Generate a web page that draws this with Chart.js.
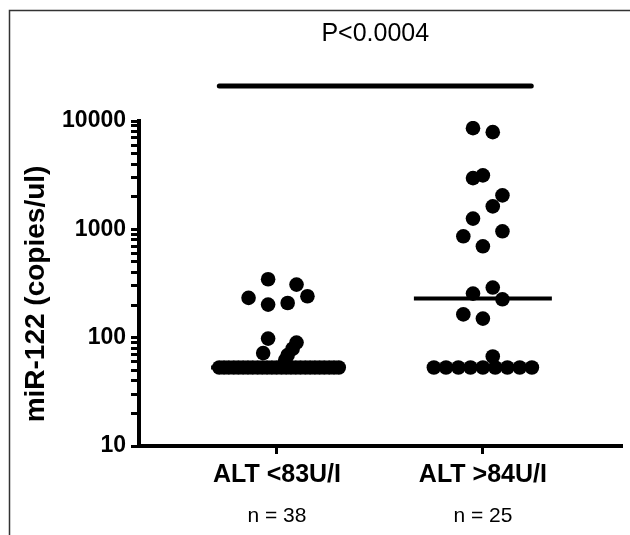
<!DOCTYPE html>
<html><head><meta charset="utf-8">
<script src="https://cdn.jsdelivr.net/npm/chart.js@4.4.0/dist/chart.umd.min.js"></script>
<style>html,body{margin:0;padding:0;background:#fff}#wrap{width:630px;height:535px;position:relative}</style>
</head><body><div id="wrap"><canvas id="c"></canvas></div>
<script>
// ---- data ----
const categories = ['ALT <83U/I', 'ALT >84U/I'];
const groupCounts = ['n = 38', 'n = 25'];
const yTickLabels = [10, 100, 1000, 10000];
const pLabel = 'P<0.0004';
const yTitle = 'miR-122 (copies/ul)';

// group 1 (ALT <83U/I): values (copies/ul) and horizontal jitter (category units)
const lowValues = [346, 309, 233, 202, 209, 241, 98, 72, 90, 79, 69, 62,
  53, 53, 53, 53, 53, 53, 53, 53, 53, 53, 53, 53, 53,
  53, 53, 53, 53, 53, 53, 53, 53, 53, 53, 53, 53, 53];
const lowJitter = [-0.043, 0.095, -0.138, -0.043, 0.052, 0.148, -0.043, -0.067, 0.095, 0.076, 0.052, 0.040,
  -0.280, -0.257, -0.234, -0.210, -0.187, -0.164, -0.141, -0.118, -0.094, -0.071, -0.048, -0.025, -0.002,
  0.022, 0.045, 0.068, 0.091, 0.114, 0.138, 0.161, 0.184, 0.207, 0.230, 0.254, 0.277, 0.300];

// group 2 (ALT >84U/I)
const highValues = [8590, 7890, 2970, 3150, 2060, 1630, 1256, 862, 959, 697, 290, 255, 226, 164, 150, 67,
  53, 53, 53, 53, 53, 53, 53, 53, 53];
const highJitter = [-0.048, 0.048, -0.048, 0.000, 0.095, 0.048, -0.048, -0.095, 0.095, 0.000, 0.048, -0.048, 0.095, -0.095, 0.000, 0.048,
  -0.238, -0.179, -0.119, -0.060, 0.000, 0.060, 0.119, 0.179, 0.238];

const medians = [53, 230];
const medianSpan = [[-0.32, 0.33], [-0.335, 0.335]];
const sigBarSpan = [-0.28, 1.235];

// ---- build ----
const FONT = '"Liberation Sans", Arial, Helvetica, sans-serif';
const toPts = (vals, jit, c) => vals.map((v, i) => ({ x: c + jit[i], y: v }));

const datasets = [
  { type: 'scatter', data: toPts(lowValues, lowJitter, 0), pointRadius: 7.3, pointHoverRadius: 7.3,
    backgroundColor: '#000', borderWidth: 0 },
  { type: 'scatter', data: toPts(highValues, highJitter, 1), pointRadius: 7.3, pointHoverRadius: 7.3,
    backgroundColor: '#000', borderWidth: 0 },
];
medians.forEach((m, i) => {
  datasets.push({ type: 'line', data: [{ x: i + medianSpan[i][0], y: m }, { x: i + medianSpan[i][1], y: m }],
    borderColor: '#000', borderWidth: 4, pointRadius: 0, borderCapStyle: 'butt', fill: false });
});

const decorPlugin = {
  id: 'decor',
  beforeDraw(chart) {
    const ctx = chart.ctx;
    ctx.save();
    ctx.strokeStyle = '#333';
    ctx.lineWidth = 1.5;
    ctx.beginPath();
    ctx.moveTo(9.5, 535); ctx.lineTo(9.5, 10.5); ctx.lineTo(630, 10.5);
    ctx.stroke();
    ctx.restore();
  },
  afterDraw(chart) {
    const ctx = chart.ctx;
    const xs = chart.scales.x;
    ctx.save();
    // significance bar
    const x1 = xs.getPixelForValue(sigBarSpan[0]);
    const x2 = xs.getPixelForValue(sigBarSpan[1]);
    ctx.strokeStyle = '#000';
    ctx.lineWidth = 5;
    ctx.lineCap = 'round';
    ctx.beginPath(); ctx.moveTo(x1, 86); ctx.lineTo(x2, 86); ctx.stroke();
    ctx.fillStyle = '#000';
    ctx.textAlign = 'center';
    ctx.textBaseline = 'middle';
    ctx.font = '25px ' + FONT;
    ctx.fillText(pLabel, (x1 + x2) / 2, 34);
    // n labels
    ctx.font = '21px ' + FONT;
    groupCounts.forEach((t, i) => ctx.fillText(t, xs.getPixelForValue(i), 516));
    // y title
    ctx.font = 'bold 28px ' + FONT;
    ctx.translate(36, 294);
    ctx.rotate(-Math.PI / 2);
    ctx.fillText(yTitle, 0, 0);
    ctx.restore();
  }
};

new Chart(document.getElementById('c'), {
  data: { datasets },
  options: {
    responsive: true, maintainAspectRatio: false, animation: false,
    layout: { padding: { top: 121, left: 0, right: 0, bottom: 0 } },
    plugins: { legend: { display: false }, tooltip: { enabled: false }, title: { display: false } },
    scales: {
      x: {
        type: 'linear', min: -0.670, max: 1.679,
        afterBuildTicks: s => { s.ticks = categories.map((_, i) => ({ value: i })); },
        afterFit: s => { s.height = 89; },
        ticks: { autoSkip: false, color: '#000', padding: 6, maxRotation: 0,
          font: { family: FONT, size: 25, weight: 'bold' },
          callback: v => categories[v] },
        grid: { drawOnChartArea: false, drawTicks: true, tickLength: 8, tickWidth: 3, tickColor: '#000' },
        border: { display: true, color: '#000', width: 4 }
      },
      y: {
        type: 'logarithmic', min: 10, max: 10000,
        afterBuildTicks: s => {
          const t = [];
          for (let d = 10; d < 10000; d *= 10) for (let k = 1; k < 10; k++) t.push({ value: d * k });
          t.push({ value: 10000 });
          s.ticks = t;
        },
        afterFit: s => { s.width = 139; },
        ticks: { autoSkip: false, color: '#000', padding: 5,
          font: { family: FONT, size: 23, weight: 'bold' },
          callback: v => yTickLabels.includes(v) ? String(v) : '' },
        grid: { drawOnChartArea: false, drawTicks: true, tickLength: 8, tickWidth: 3, tickColor: '#000' },
        border: { display: true, color: '#000', width: 4 }
      }
    }
  },
  plugins: [decorPlugin]
});
</script></body></html>
